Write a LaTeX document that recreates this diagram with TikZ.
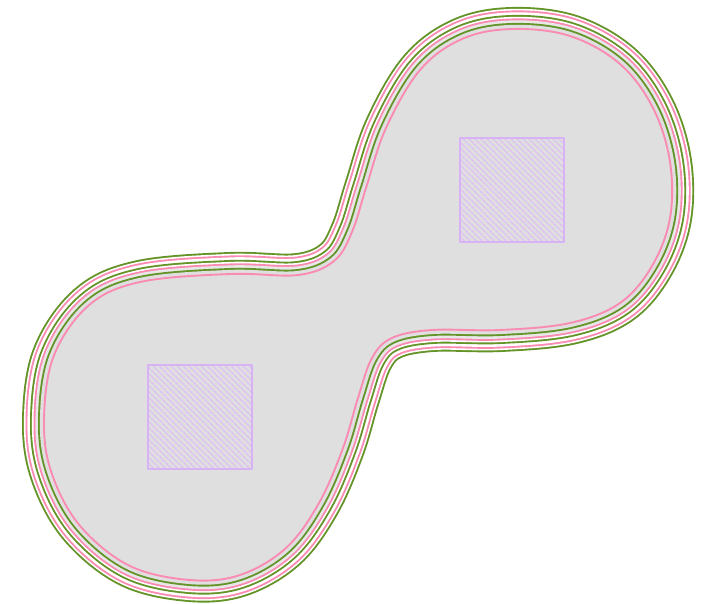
\documentclass[tikz,border=0pt]{standalone}
\usetikzlibrary{patterns.meta}
\definecolor{pk}{RGB}{250,140,180}
\definecolor{gr}{RGB}{100,148,40}
\definecolor{fillg}{RGB}{223,223,223}
\definecolor{gapg}{RGB}{232,232,232}
\definecolor{sqline}{RGB}{215,178,245}
\definecolor{hatch}{RGB}{222,190,245}
\newcommand\peanut[1]{\draw[#1] plot[smooth cycle, tension=0.6] coordinates {
 (44,425) (53,358) (88,306) (140,282) (230,274) (298,275) (334,261) (352,232)
 (366,188) (386,128) (420,70) (462,39) (512,29) (570,36) (620,64) (653,108) (670,162)
 (670,218) (652,266) (620,303) (570,323) (500,330) (432,330) (392,338) (372,358)
 (358,398) (343,448) (319,503) (286,548) (240,575) (190,580) (130,566) (81,527) (53,477)};}
\tikzset{sq/.style={draw=sqline, line width=1.2pt,
  pattern={Lines[angle=-45,distance=4pt,line width=1.4pt]}, pattern color=hatch}}
\begin{document}
\begin{tikzpicture}[x=1pt,y=-1pt,line join=round]
\useasboundingbox (0,0) rectangle (709,603);
\peanut{gr, line width=44pt}
\peanut{white, line width=40.2pt}
\peanut{pk, line width=37pt}
\peanut{white, line width=33.2pt}
\peanut{gr, line width=28pt}
\peanut{white, line width=24.2pt}
\peanut{pk, line width=21pt}
\peanut{gapg, line width=17.2pt}
\peanut{gr, line width=12pt}
\peanut{fillg, line width=8.2pt}
\peanut{draw=none, fill=fillg}
\peanut{pk, line width=1.9pt}
\path[sq] (148,365) rectangle (252,469);
\path[sq] (460,138) rectangle (564,242);
\end{tikzpicture}
\end{document}
